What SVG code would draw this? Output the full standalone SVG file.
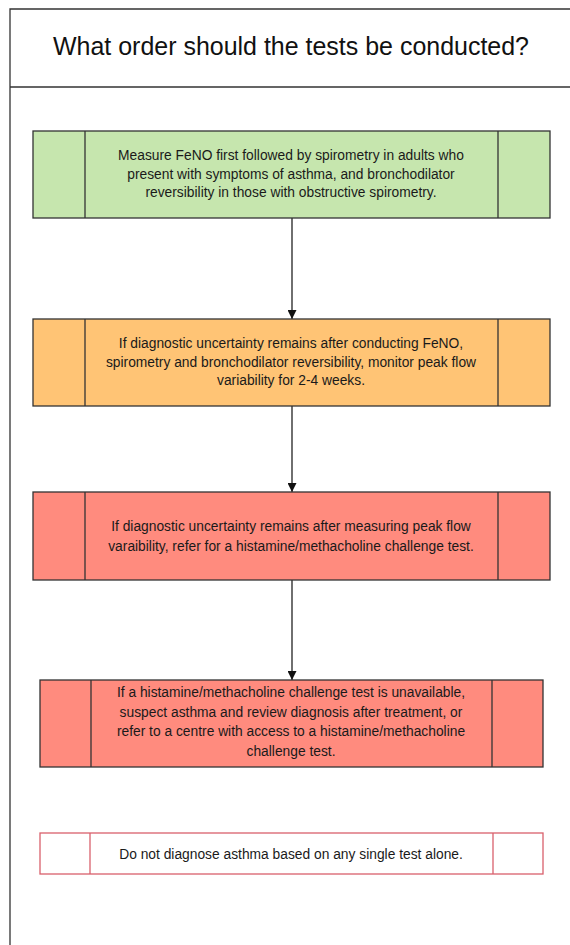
<svg xmlns="http://www.w3.org/2000/svg" width="570" height="945" viewBox="0 0 570 945">
  <style>
    .frame { fill: none; stroke: #333; stroke-width: 1.3; }
    .box { stroke: #333; stroke-width: 1.3; }
    .div { stroke: #333; stroke-width: 1.3; }
    .green { fill: #c6e6ae; }
    .orange { fill: #ffc475; }
    .red { fill: #ff8b7e; }
    .note { fill: #fff; stroke: #d9606c; stroke-width: 1.3; }
    .note-div { stroke: #d9606c; stroke-width: 1.3; }
    .t { font-family: "Liberation Sans", Arial, sans-serif; font-size: 13.8px; fill: #1a1a1a; text-anchor: middle; }
    .title { font-family: "Liberation Sans", Arial, sans-serif; font-size: 25px; fill: #111; text-anchor: middle; }
    .conn { stroke: #222; stroke-width: 1.3; fill: none; }
  </style>
  <defs>
    <marker id="arrow" viewBox="0 0 10 10" refX="10" refY="5" markerWidth="9" markerHeight="9" markerUnits="userSpaceOnUse" orient="auto">
      <path d="M0,0 L10,5 L0,10 z" fill="#111"/>
    </marker>
  </defs>

  <rect width="570" height="945" fill="#fff"/>

  <!-- outer frame and header -->
  <g id="header">
    <path class="frame" d="M10,945 V9 H571 M10,87 H571"/>
    <text class="title" x="291" y="55" textLength="476" lengthAdjust="spacingAndGlyphs">What order should the tests be conducted?</text>
  </g>

  <!-- connectors -->
  <g id="connectors">
    <line class="conn" x1="292" y1="218" x2="292" y2="319" marker-end="url(#arrow)"/>
    <line class="conn" x1="292" y1="406" x2="292" y2="492" marker-end="url(#arrow)"/>
    <line class="conn" x1="292" y1="580" x2="292" y2="680" marker-end="url(#arrow)"/>
  </g>

  <g id="step1">
    <rect class="box green" x="33" y="131" width="517" height="87"/>
    <line class="div" x1="85" y1="131" x2="85" y2="218"/>
    <line class="div" x1="498" y1="131" x2="498" y2="218"/>
    <text class="t" x="291" y="160">Measure FeNO first followed by spirometry in adults who</text>
    <text class="t" x="291" y="178.5">present with symptoms of asthma, and bronchodilator</text>
    <text class="t" x="291" y="197">reversibility in those with obstructive spirometry.</text>
  </g>

  <g id="step2">
    <rect class="box orange" x="33" y="319" width="517" height="87"/>
    <line class="div" x1="85" y1="319" x2="85" y2="406"/>
    <line class="div" x1="498" y1="319" x2="498" y2="406"/>
    <text class="t" x="291" y="348">If diagnostic uncertainty remains after conducting FeNO,</text>
    <text class="t" x="291" y="366.5">spirometry and bronchodilator reversibility, monitor peak flow</text>
    <text class="t" x="291" y="385">variability for 2-4 weeks.</text>
  </g>

  <g id="step3">
    <rect class="box red" x="33" y="492" width="517" height="88"/>
    <line class="div" x1="85" y1="492" x2="85" y2="580"/>
    <line class="div" x1="498" y1="492" x2="498" y2="580"/>
    <text class="t" x="291" y="531">If diagnostic uncertainty remains after measuring peak flow</text>
    <text class="t" x="291" y="551">varaibility, refer for a histamine/methacholine challenge test.</text>
  </g>

  <g id="step4">
    <rect class="box red" x="40" y="680" width="503" height="87"/>
    <line class="div" x1="91" y1="680" x2="91" y2="767"/>
    <line class="div" x1="492" y1="680" x2="492" y2="767"/>
    <text class="t" x="291" y="697">If a histamine/methacholine challenge test is unavailable,</text>
    <text class="t" x="291" y="716.5">suspect asthma and review diagnosis after treatment, or</text>
    <text class="t" x="291" y="736">refer to a centre with access to a histamine/methacholine</text>
    <text class="t" x="291" y="755.5">challenge test.</text>
  </g>

  <g id="note">
    <rect class="note" x="40" y="833" width="503" height="41"/>
    <line class="note-div" x1="90" y1="833" x2="90" y2="874"/>
    <line class="note-div" x1="493" y1="833" x2="493" y2="874"/>
    <text class="t" x="291" y="859">Do not diagnose asthma based on any single test alone.</text>
  </g>
</svg>
